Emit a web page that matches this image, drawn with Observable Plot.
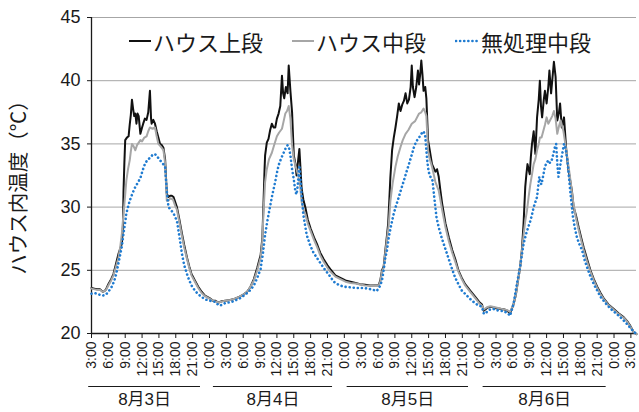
<!DOCTYPE html>
<html>
<head>
<meta charset="utf-8">
<script src="https://cdn.jsdelivr.net/npm/d3@7"></script>
<script src="https://cdn.jsdelivr.net/npm/@observablehq/plot@0.6"></script>
<style>
  html, body { margin: 0; padding: 0; background: #fff; }
  #wrap { position: relative; width: 639px; height: 412px; }
  #legend { position: absolute; left: 0; top: 28px; height: 26px; width: 639px;
    font-family: 'Noto Sans CJK JP', sans-serif; font-size: 22px; line-height: 26px; color: #1a1a1a; }
  .item { position: absolute; top: 0; display: flex; align-items: center; white-space: nowrap; }
  .item svg { display: block; margin-right: 1px; }
</style>
</head>
<body>
<div id="wrap"><div id="legend"></div></div>
<script>
// ---- data (hour counted from 8/3 0:00, temperature °C) ----
const seriesNames = ["ハウス上段", "ハウス中段", "無処理中段"];

const upperSeries = [
[3,23.6],[3.5,23.55],[4,23.5],[4.5,23.5],[5,23.3],[5.3,23.35],[5.6,23.5],[6,23.9],[6.5,24.3],[6.9,24.7],[7.3,25.4],[7.8,26.3],[8.1,26.7],[8.4,27.1],[8.6,28.5],[8.7,31.3],[8.85,33.5],[9,35.3],[9.3,35.5],[9.6,35.6],[9.8,36.5],[10,37.3],[10.2,38.5],[10.4,37.8],[10.6,37.2],[10.8,37.4],[11,36.6],[11.2,37.4],[11.4,37.2],[11.7,35.8],[12,36.3],[12.2,36.6],[12.5,37],[12.8,36.9],[13.1,37.5],[13.4,39.2],[13.6,37],[13.7,36.6],[14,36.9],[14.3,36.6],[14.6,36],[14.9,35.5],[15.2,35],[15.5,34.9],[15.8,34.7],[16.1,33.8],[16.4,31.05],[16.7,30.8],[17,30.9],[17.3,30.9],[17.6,30.8],[17.9,30.4],[18.2,30],[18.6,29.1],[19.1,27.9],[19.5,27],[20,26],[20.4,25.3],[20.8,24.7],[21.4,24.2],[22,23.7],[22.6,23.3],[23.2,23],[24,22.8],[24.6,22.6],[25,22.6],[25.6,22.45],[26.2,22.55],[26.8,22.6],[27.7,22.65],[28.5,22.75],[29.3,22.9],[30.1,23.1],[30.7,23.3],[31.3,23.7],[31.9,24.3],[32.5,25.2],[33.1,26.2],[33.4,27.5],[33.6,30.1],[33.8,33],[33.9,34.1],[34.2,35.1],[34.5,35.4],[34.8,36.1],[35.1,36.6],[35.4,36.3],[35.7,36.3],[36,37],[36.3,37.4],[36.6,38],[36.9,40.4],[37.1,39],[37.3,38.6],[37.6,39.5],[37.9,39],[38.1,41.2],[38.4,39.2],[38.7,37.5],[39,34.1],[39.3,33.4],[39.5,32.5],[39.8,33.8],[40,34.6],[40.2,33],[40.4,31.45],[40.7,30.6],[41.1,29.9],[41.5,29],[42,28.3],[42.6,27.6],[43.2,27],[43.7,26.4],[44.3,25.9],[45,25.4],[45.5,25.1],[46.4,24.6],[47.3,24.4],[48.2,24.2],[49.1,24.1],[50,24],[50.8,23.9],[51.7,23.85],[52.6,23.8],[53.4,23.8],[54.1,23.8],[54.4,24.2],[54.7,25],[55,25.3],[55.3,26.6],[55.6,27.8],[55.8,28.7],[56,30.5],[56.2,32.4],[56.5,34.5],[56.8,35.5],[57.1,36.3],[57.4,37.2],[57.7,38.2],[58,37.6],[58.3,38.1],[58.6,38.4],[58.9,39],[59.2,38.2],[59.5,38.5],[59.8,39.5],[60,41.2],[60.2,39.5],[60.5,38.7],[60.8,39.5],[61.1,40.8],[61.3,39.7],[61.5,40.5],[61.7,41.6],[61.9,40.5],[62.1,39.2],[62.4,39.5],[62.6,38.6],[62.9,35.3],[63.2,34.5],[63.6,33.4],[63.9,33.1],[64.2,32.8],[64.5,33],[64.8,32.4],[65.1,31.3],[65.4,30.3],[65.7,29.5],[66,28.7],[66.6,27.6],[67.2,26.6],[67.8,25.8],[68.3,25],[68.9,24.4],[69.5,23.9],[70.4,23.4],[71.3,22.9],[72,22.5],[72.5,22.3],[72.8,21.8],[73.1,21.9],[73.5,22.05],[74,22.1],[74.3,22.1],[75,22],[75.7,21.95],[76.5,21.9],[77,21.8],[77.5,21.6],[78.1,22.3],[78.5,23],[79,24.45],[79.3,25.3],[79.6,26.6],[79.9,28.7],[80.2,31.6],[80.4,32.6],[80.6,33.4],[81,32.6],[81.2,34],[81.4,35],[81.7,36],[82,34.2],[82.3,37.1],[82.6,38.5],[82.8,40],[83,38],[83.2,37.1],[83.5,38.5],[83.7,39.2],[84,38.2],[84.3,39.5],[84.5,40.8],[84.8,39],[85,40],[85.3,41.5],[85.6,40.3],[85.9,36.85],[86.2,37.5],[86.4,38.2],[86.7,36.3],[87.1,37.1],[87.5,34.5],[87.9,32.9],[88.5,31.3],[88.8,30],[89.2,29.4],[89.7,28.4],[90.2,27.5],[90.6,26.8],[91.2,25.9],[91.8,25],[92.4,24.3],[93,23.7],[93.6,23.2],[94.2,22.75],[95,22.3],[95.9,21.95],[96.8,21.6],[97.7,21.3],[98.3,21],[98.9,20.6],[99.5,20.1],[100,19.95]
];

const middleSeries = [
[3,23.55],[4,23.45],[4.5,23.45],[5,23.3],[5.6,23.45],[6,23.8],[6.5,24.2],[6.9,24.6],[7.3,25.2],[7.8,26],[8.1,26.8],[8.4,27.9],[8.7,29.5],[9,31],[9.2,32.1],[9.5,33],[9.8,33.7],[10,34.4],[10.2,35],[10.5,34.8],[10.8,34.5],[11.1,34.9],[11.4,35.1],[11.7,35.3],[12,35.2],[12.4,35.5],[12.8,35.6],[13.1,36],[13.4,36.3],[13.8,36.2],[14.3,36.3],[14.6,35.6],[14.9,35],[15.3,34.8],[15.8,34.5],[16.1,33.5],[16.4,30.5],[16.7,30.5],[17,30.7],[17.5,30.6],[17.9,30.1],[18.2,29.8],[18.6,28.9],[19.1,27.7],[19.5,26.8],[20,25.9],[20.4,25.2],[20.8,24.6],[21.4,24.1],[22,23.6],[22.6,23.2],[23.2,22.95],[24,22.75],[24.6,22.6],[25.6,22.45],[26.8,22.6],[27.7,22.65],[28.5,22.75],[29.3,22.9],[30.1,23.1],[30.7,23.3],[31.3,23.7],[31.9,24.2],[32.5,25],[33.1,26],[33.4,27.3],[33.6,29.5],[33.9,32],[34.2,33],[34.6,33.8],[35.1,34.3],[35.5,34.9],[36,35.6],[36.4,35.9],[36.9,36.2],[37.2,36.8],[37.5,37.4],[37.8,37.6],[38.1,38],[38.4,37],[38.7,34.9],[39,33.8],[39.3,33.3],[39.6,32.8],[39.8,32.5],[40.1,31.8],[40.4,30.4],[40.8,29.7],[41.1,29.4],[41.5,28.7],[42,28.1],[42.6,27.4],[43.2,26.8],[43.7,26.2],[44.3,25.7],[45,25.2],[45.5,24.9],[46.4,24.5],[47.3,24.3],[48.2,24.1],[49.1,24],[50,23.95],[51.7,23.8],[53.4,23.75],[54.1,23.75],[54.4,24.1],[54.7,24.9],[55,25.2],[55.3,26.4],[55.6,27.5],[55.9,28.6],[56.2,30.5],[56.6,31.9],[57.1,33.2],[57.5,34],[58,34.75],[58.4,35.3],[58.9,35.8],[59.4,36.1],[60,36.6],[60.6,36.8],[61.3,37.4],[61.7,37.5],[62.1,37.8],[62.4,37.5],[62.6,37.2],[62.9,34.5],[63.2,33.8],[63.6,33.2],[64.2,32],[64.8,31.3],[65.4,29.8],[66,28.4],[66.6,27.3],[67.2,26.4],[67.8,25.6],[68.3,24.9],[68.9,24.3],[69.5,23.8],[70.4,23.3],[71.3,22.8],[72,22.4],[72.5,22.2],[72.8,21.9],[73.5,22.1],[74,22.15],[75,22.05],[76,21.95],[77,21.85],[77.5,21.7],[78.1,22.3],[78.5,23],[79,24.4],[79.3,25.3],[79.6,26.5],[79.9,27.8],[80.2,28.9],[80.5,29.7],[80.8,30.8],[81.1,31.8],[81.4,32.6],[81.7,33.4],[82,33.8],[82.3,34.5],[82.6,35],[82.8,35.5],[83.1,35.5],[83.4,36],[83.7,36.5],[84,37.1],[84.3,36.6],[84.6,36.85],[85,37.2],[85.3,37.6],[85.6,37],[85.9,35.8],[86.2,36.4],[86.5,36.85],[87,36],[87.5,34.5],[88.1,32.6],[88.7,30.5],[89.2,29.2],[89.7,28.2],[90.2,27.3],[90.6,26.6],[91.2,25.7],[91.8,24.9],[92.4,24.2],[93,23.6],[93.6,23.1],[94.2,22.7],[95,22.25],[95.9,21.9],[96.8,21.55],[97.7,21.25],[98.3,20.95],[98.9,20.55],[99.5,20.1],[100,19.95]
];

const controlSeries = [
[3,23.15],[3.5,23.2],[4,23.15],[4.5,23.05],[5,23],[5.5,23.05],[6,23.3],[6.6,23.7],[7,24.1],[7.4,24.7],[8,26],[8.4,26.9],[8.7,27.9],[9,28.8],[9.2,29.5],[9.5,30],[9.8,30.5],[10.3,31.1],[10.8,31.6],[11.2,31.9],[11.7,32.3],[12.1,32.9],[12.5,33.4],[12.9,33.7],[13.4,33.9],[13.8,34.1],[14.3,34.2],[14.7,34],[15.2,33.7],[15.6,33.5],[16.1,33.2],[16.4,31.3],[16.7,30],[17.1,29.8],[17.6,29.5],[17.9,29.2],[18.2,28.9],[18.6,27.8],[19.1,26.3],[19.5,25.4],[20,24.7],[20.4,24.2],[20.8,23.8],[21.4,23.4],[22,23.1],[22.6,22.9],[23.2,22.7],[24,22.6],[25,22.5],[25.6,22.25],[25.9,22.2],[26.5,22.35],[27,22.45],[27.7,22.45],[28.5,22.6],[29.3,22.75],[30.1,23],[30.7,23.2],[31.3,23.45],[31.9,23.8],[32.5,24.4],[33.1,25.1],[33.5,26.3],[33.9,27.8],[34.3,28.9],[34.8,30.1],[35.2,31],[35.7,32],[36,32.7],[36.3,33.3],[36.7,33.8],[37.2,34.3],[37.6,34.7],[37.9,34.9],[38.2,34.6],[38.4,34.1],[38.7,33],[39,32.2],[39.3,31.2],[39.5,31],[39.7,31.7],[39.9,32.8],[40,33.3],[40.2,32.2],[40.4,31],[40.7,29.4],[41,28.6],[41.3,27.8],[41.9,27],[42.5,26.4],[43.1,26],[43.7,25.6],[44.3,25.2],[44.9,24.85],[45.5,24.5],[46.1,24.1],[47,23.85],[47.9,23.7],[49.1,23.65],[50,23.6],[51.2,23.6],[52.2,23.55],[53.2,23.45],[53.7,23.35],[54.1,23.55],[54.4,23.8],[54.7,24.2],[55,25],[55.3,26],[55.6,26.6],[55.9,27.6],[56.3,28.5],[56.8,29.5],[57.2,30.1],[57.7,30.8],[58.1,31.4],[58.6,32.1],[59,32.7],[59.5,33.4],[59.9,34],[60.4,34.75],[60.8,35.2],[61.3,35.5],[61.7,35.8],[62.1,36],[62.4,35.6],[62.6,34.5],[62.8,33.5],[63,32.8],[63.4,32.3],[63.7,32.1],[64,30.8],[64.4,29.2],[64.8,28.4],[65.3,27.6],[65.9,26.8],[66.5,26],[67.1,25.2],[67.7,24.45],[68.3,23.9],[68.9,23.4],[69.8,23],[70.7,22.6],[71.6,22.3],[72.5,22.1],[72.8,21.6],[73.1,21.55],[73.5,21.8],[74,21.9],[74.5,21.95],[75,21.85],[75.7,21.8],[76.5,21.75],[77.2,21.55],[77.5,21.4],[78.1,22.3],[78.7,23.9],[79.3,25.3],[79.6,26.2],[79.9,27.1],[80.2,27.6],[80.5,28.1],[80.8,28.5],[81.1,28.9],[81.4,29.4],[81.7,30],[82,30.4],[82.3,30.8],[82.5,31.6],[82.7,32.4],[82.9,31.9],[83.1,31.8],[83.4,32.5],[83.7,33.2],[84,33.5],[84.3,33.7],[84.6,33.5],[84.9,33.7],[85.2,34.2],[85.5,34.8],[85.7,35],[85.9,33.5],[86.1,32.4],[86.4,33.2],[86.7,34],[87.1,35],[87.4,34.6],[87.7,33.7],[88,32.3],[88.2,31.3],[88.7,29.2],[89,28.4],[89.4,27.6],[89.8,27.1],[90.3,26.6],[90.7,25.9],[91.2,25.25],[91.8,24.5],[92.4,23.9],[93,23.4],[93.6,22.9],[94.5,22.4],[95.4,21.95],[96.2,21.65],[97.1,21.3],[98,20.9],[98.8,20.5],[99.4,20.2],[100,19.95]
];

const xTickHours = [3,6,9,12,15,18,21,24,27,30,33,36,39,42,45,48,51,54,57,60,63,66,69,72,75,78,81,84,87,90,93,96,99];
const xTickLabels = ["3:00","6:00","9:00","12:00","15:00","18:00","21:00",
  "0:00","3:00","6:00","9:00","12:00","15:00","18:00","21:00",
  "0:00","3:00","6:00","9:00","12:00","15:00","18:00","21:00",
  "0:00","3:00","6:00","9:00","12:00","15:00","18:00","21:00",
  "0:00","3:00"];
const yTicks = [20,25,30,35,40,45];
const yGrid = [25,30,35,40,45];
const dayLabels = ["8月3日","8月4日","8月5日","8月6日"];
const dayStart = [2.5, 24.7, 48.5, 72.7];
const dayEnd = [22.4, 45.9, 70.1, 94.6];
const yTitle = "ハウス内温度（℃）";

const days = dayLabels.map((label, i) => ({label, start: dayStart[i], end: dayEnd[i]}));
const labelOf = new Map(xTickHours.map((h, i) => [h, xTickLabels[i]]));

const colors = ["#111111", "#a6a6a6", "#1f7bd0"];
const ink = "#1a1a1a";

const chart = Plot.plot({
  width: 639,
  height: 412,
  marginLeft: 91,
  marginRight: 3,
  marginTop: 17,
  marginBottom: 79,
  style: {fontFamily: "'Liberation Sans', 'Noto Sans CJK JP', sans-serif", fontSize: "18px", color: ink, background: "white", overflow: "visible"},
  x: {domain: [3, 100]},
  y: {domain: [20, 45]},
  marks: [
    Plot.gridY(yGrid, {stroke: "#a6a6a6", strokeOpacity: 1, strokeWidth: 1}),
    Plot.axisY(yTicks, {tickSize: 4, tickPadding: 7, fontSize: 18, label: null, stroke: ink}),
    Plot.axisX(xTickHours, {tickSize: 5, tickPadding: 3, tickRotate: -90, fontSize: 14, label: null,
      tickFormat: h => labelOf.get(h), stroke: ink}),
    Plot.ruleX([3], {y1: 20, y2: 45, stroke: ink, strokeWidth: 1.3}),
    Plot.ruleY([20], {stroke: ink, strokeWidth: 1.3}),
    Plot.line(upperSeries, {x: d => d[0], y: d => d[1], stroke: colors[0], strokeWidth: 2}),
    Plot.line(middleSeries, {x: d => d[0], y: d => d[1], stroke: colors[1], strokeWidth: 2}),
    Plot.line(controlSeries, {x: d => d[0], y: d => d[1], stroke: colors[2], strokeWidth: 2.6,
      strokeDasharray: "0.1 4", strokeLinecap: "round"}),
    Plot.ruleY(days, {x1: "start", x2: "end", y: () => 20, dy: 53, stroke: ink, strokeWidth: 1.2}),
    Plot.text(days, {x: d => (d.start + d.end) / 2, y: () => 20, dy: 66, text: "label", fontSize: 17, fill: ink}),
    Plot.text([yTitle], {frameAnchor: "left", textAnchor: "middle", lineAnchor: "middle", dx: -72, dy: 7,
      rotate: -90, fontSize: 20.5, fill: ink, fontFamily: "'Noto Sans CJK JP', sans-serif"})
  ]
});
document.getElementById("wrap").prepend(chart);

// legend
const legendPos = [[128, 24], [291, 24], [455, 25]];
const legend = d3.select("#legend");
seriesNames.forEach((name, i) => {
  const item = legend.append("div").attr("class", "item").style("left", legendPos[i][0] + "px");
  const s = item.append("svg").attr("width", legendPos[i][1]).attr("height", 26);
  const ln = s.append("line").attr("x1", 1).attr("x2", legendPos[i][1] - 1).attr("y1", 13).attr("y2", 13)
    .attr("stroke", colors[i]).attr("stroke-width", i === 2 ? 2.6 : 2);
  if (i === 2) ln.attr("stroke-dasharray", "0.1 4").attr("stroke-linecap", "round");
  item.append("span").text(name);
});
</script>
</body>
</html>
